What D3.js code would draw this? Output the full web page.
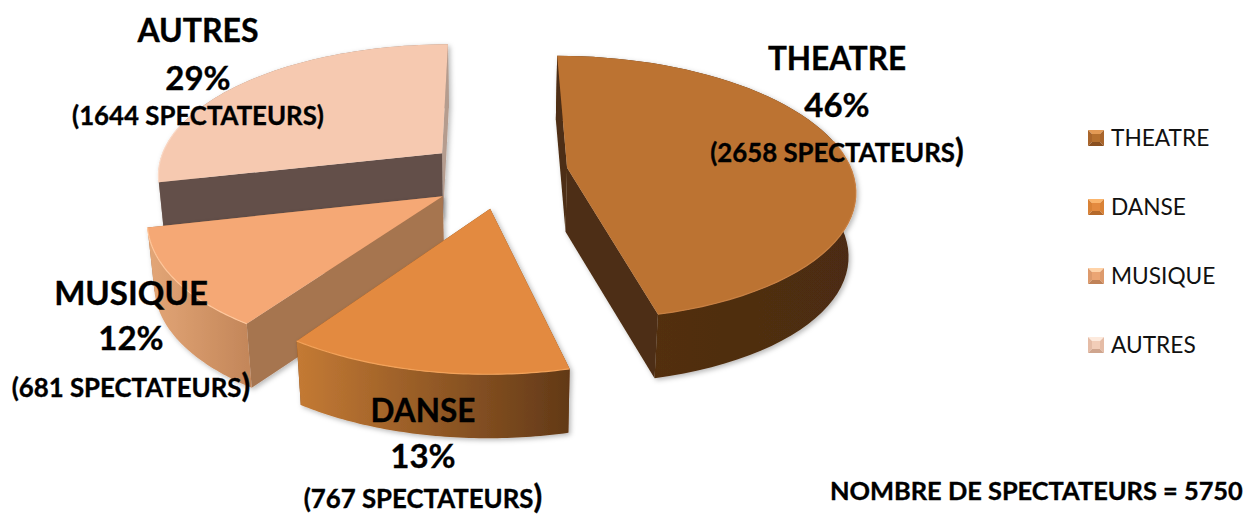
<!DOCTYPE html>
<html>
<head>
<meta charset="utf-8">
<script src="https://cdn.jsdelivr.net/npm/d3@7"></script>
<style>
  html, body { margin: 0; padding: 0; background: #fff; }
  svg { display: block; font-family: Lato, sans-serif; }
</style>
</head>
<body>
<script>
// data
var CATEGORIES = ["THEATRE", "DANSE", "MUSIQUE", "AUTRES"];
var SPECTATORS = [2658, 767, 681, 1644];
var PERCENTS = ["46%", "13%", "12%", "29%"];
var TOTAL_LABEL = "NOMBRE DE SPECTATEURS = 5750";

// colours per slice
var TOP_COLORS = ["#bc7333", "#e38a3f", "#f5a874", "#f6c9b0"];
var EDGE_COLORS = ["#c98042", "#f3a25a", "#ffc79c", "#fbd9c6"];
var FACE_COLORS = ["#4e2d12", "#7a4a20", "#a67450", "#64504a"];
var RIM_COLORS = [
    ["#55310f", "#4c2c12"],
    ["#c47a34", "#623917"],
    ["#e3a677", "#c4875a"],
    ["#a08a7e", "#a08a7e"]
];
var LEGEND_COLORS = [
    {top: "#e39a55", side: "#a9652b", bottom: "#8a5020", center: "#b5702f"},
    {top: "#fbb56c", side: "#d98236", bottom: "#b5692a", center: "#e38a3f"},
    {top: "#ffd3a8", side: "#dd9a6c", bottom: "#c08258", center: "#eba574"},
    {top: "#fdeadd", side: "#e5bca6", bottom: "#cfa58e", center: "#f2cdb8"}
];

// layout of the projected pie
var WIDTH = 1248, HEIGHT = 515;
var CENTER_X = 490, CENTER_Y = 172;
var RADIUS_X = 285, RADIUS_Z = 130, PERSPECTIVE = 0.15;
var THICKNESS = 64, BOTTOM_SHRINK = 0.98;
var EXPLODE = [0.27, 0.24, 0.23, 0.21];
// small screen nudges on the exploded slices
var NUDGE_X = [1, 13, 8, -2];
var NUDGE_Y = [0, 5, 7, -2];

var LABEL_X = [837, 423, 131, 198];
var LABEL_Y = [70, 422, 305, 42];
var LINE_GAPS = [[47, 92], [46, 86], [45, 92], [48, 83]];
var NAME_SIZES = [31.5, 31.5, 33, 32];

var svg = d3.select("body").append("svg")
    .attr("width", WIDTH)
    .attr("height", HEIGHT);

var defs = svg.append("defs");
var shadow = defs.append("filter").attr("id", "soft")
    .attr("x", "-10%").attr("y", "-10%").attr("width", "120%").attr("height", "120%");
shadow.append("feDropShadow")
    .attr("dx", 2).attr("dy", 2).attr("stdDeviation", 2.5)
    .attr("flood-color", "#000").attr("flood-opacity", 0.28);

// angles
var pie = d3.pie().sort(null).startAngle(0).endAngle(2 * Math.PI);
var arcs = pie(SPECTATORS);

// world point on the exploded slice -> screen point
function project(i, a, r, bottom) {
    var mid = (arcs[i].startAngle + arcs[i].endAngle) / 2;
    var x = r * Math.sin(a) + EXPLODE[i] * Math.sin(mid);
    var z = r * Math.cos(a) + EXPLODE[i] * Math.cos(mid);
    var s = 1 / (1 + PERSPECTIVE * z);
    var sx = RADIUS_X * x * s;
    var sy = -RADIUS_Z * z * s;
    if (bottom) {
        return [CENTER_X + NUDGE_X[i] + sx * BOTTOM_SHRINK, CENTER_Y + NUDGE_Y[i] + sy + THICKNESS];
    }
    return [CENTER_X + NUDGE_X[i] + sx, CENTER_Y + NUDGE_Y[i] + sy];
}

function rimAngles(d) {
    return d3.range(0, 61).map(function (k) {
        return d.startAngle + (d.endAngle - d.startAngle) * k / 60;
    });
}

var line = d3.line().curve(d3.curveLinear);

// back to front
var drawOrder = [3, 0, 2, 1];

drawOrder.forEach(function (i) {
    var d = arcs[i];
    var g = svg.append("g").attr("class", "slice").attr("filter", "url(#soft)");
    var angles = rimAngles(d);
    var mid = (d.startAngle + d.endAngle) / 2;

    var rimTop = angles.map(function (a) { return project(i, a, 1, false); });
    var rimBottom = angles.map(function (a) { return project(i, a, 1, true); });

    var grad = defs.append("linearGradient")
        .attr("id", "rim" + i)
        .attr("gradientUnits", "userSpaceOnUse")
        .attr("x1", d3.min(rimTop, function (p) { return p[0]; }))
        .attr("x2", d3.max(rimTop, function (p) { return p[0]; }))
        .attr("y1", 0).attr("y2", 0);
    grad.append("stop").attr("offset", 0).attr("stop-color", RIM_COLORS[i][0]);
    grad.append("stop").attr("offset", 1).attr("stop-color", RIM_COLORS[i][1]);

    function drawWall() {
        g.append("path")
            .attr("d", line(rimTop.concat(rimBottom.slice().reverse())) + "Z")
            .attr("fill", "url(#rim" + i + ")");
    }

    // a wall that looks away from us goes under the straight faces
    var wallIsBack = Math.cos(mid) > 0;
    if (wallIsBack) drawWall();

    // the two straight faces
    [d.endAngle, d.startAngle].forEach(function (a) {
        var face = [
            project(i, a, 0, false), project(i, a, 1, false),
            project(i, a, 1, true), project(i, a, 0, true)
        ];
        g.append("path")
            .attr("d", line(face) + "Z")
            .attr("fill", i === 3 && a === d.endAngle ? "#b59c8e" : FACE_COLORS[i]);
    });

    if (!wallIsBack) drawWall();

    // top face
    var apex = project(i, 0, 0, false);
    g.append("path")
        .attr("d", line([apex].concat(rimTop)) + "Z")
        .attr("fill", TOP_COLORS[i]);

    // light bevel on the front part of the rim only
    var frontRim = angles.filter(function (a) { return Math.cos(a) < 0.25; })
        .map(function (a) { return project(i, a, 1, false); });
    g.append("path")
        .attr("d", line(frontRim))
        .attr("fill", "none")
        .attr("stroke", EDGE_COLORS[i])
        .attr("stroke-width", 1.2);
});

// slice labels
var labels = svg.append("g").attr("class", "labels").attr("fill", "#000")
    .attr("stroke", "#000").attr("stroke-width", 0.35)
    .attr("font-weight", 700).attr("text-anchor", "middle");

CATEGORIES.forEach(function (name, i) {
    var g = labels.append("g").attr("transform", "translate(" + LABEL_X[i] + "," + LABEL_Y[i] + ")");
    g.append("text").attr("font-size", NAME_SIZES[i]).text(name);
    g.append("text").attr("y", LINE_GAPS[i][0]).attr("font-size", 33).text(PERCENTS[i]);
    var t = g.append("text").attr("y", LINE_GAPS[i][1]).attr("font-size", 25.8);
    t.append("tspan").text("(" + SPECTATORS[i] + " SPECTATEURS");
    t.append("tspan").attr("font-size", i === 3 ? 25.8 : 32).text(")");
});

// legend
var LEGEND_MARK_X = 1088, LEGEND_SIZE = 16, LEGEND_INSET = 4;
var legendY = d3.scalePoint().domain(CATEGORIES).range([146, 353]);

var legend = svg.append("g").attr("class", "legend");
CATEGORIES.forEach(function (name, i) {
    var y = legendY(name);
    var x0 = LEGEND_MARK_X, x1 = x0 + LEGEND_SIZE, y0 = y - LEGEND_SIZE, y1 = y;
    var ix0 = x0 + LEGEND_INSET, ix1 = x1 - LEGEND_INSET;
    var iy0 = y0 + LEGEND_INSET, iy1 = y1 - LEGEND_INSET;
    var c = LEGEND_COLORS[i];
    var g = legend.append("g");
    g.append("path").attr("d", line([[x0, y0], [x1, y0], [ix1, iy0], [ix0, iy0]]) + "Z").attr("fill", c.top);
    g.append("path").attr("d", line([[x0, y0], [ix0, iy0], [ix0, iy1], [x0, y1]]) + "Z").attr("fill", c.side);
    g.append("path").attr("d", line([[x1, y0], [ix1, iy0], [ix1, iy1], [x1, y1]]) + "Z").attr("fill", c.side);
    g.append("path").attr("d", line([[x0, y1], [x1, y1], [ix1, iy1], [ix0, iy1]]) + "Z").attr("fill", c.bottom);
    g.append("path").attr("d", line([[ix0, iy0], [ix1, iy0], [ix1, iy1], [ix0, iy1]]) + "Z").attr("fill", c.center);
    g.append("text")
        .attr("x", 1111).attr("y", y)
        .attr("font-size", 22.7)
        .attr("fill", "#111")
        .text(name);
});

// total
svg.append("text")
    .attr("x", 830).attr("y", 500)
    .attr("font-size", 25.4).attr("font-weight", 700)
    .attr("fill", "#000")
    .attr("stroke", "#000").attr("stroke-width", 0.35)
    .text(TOTAL_LABEL);
</script>
</body>
</html>
